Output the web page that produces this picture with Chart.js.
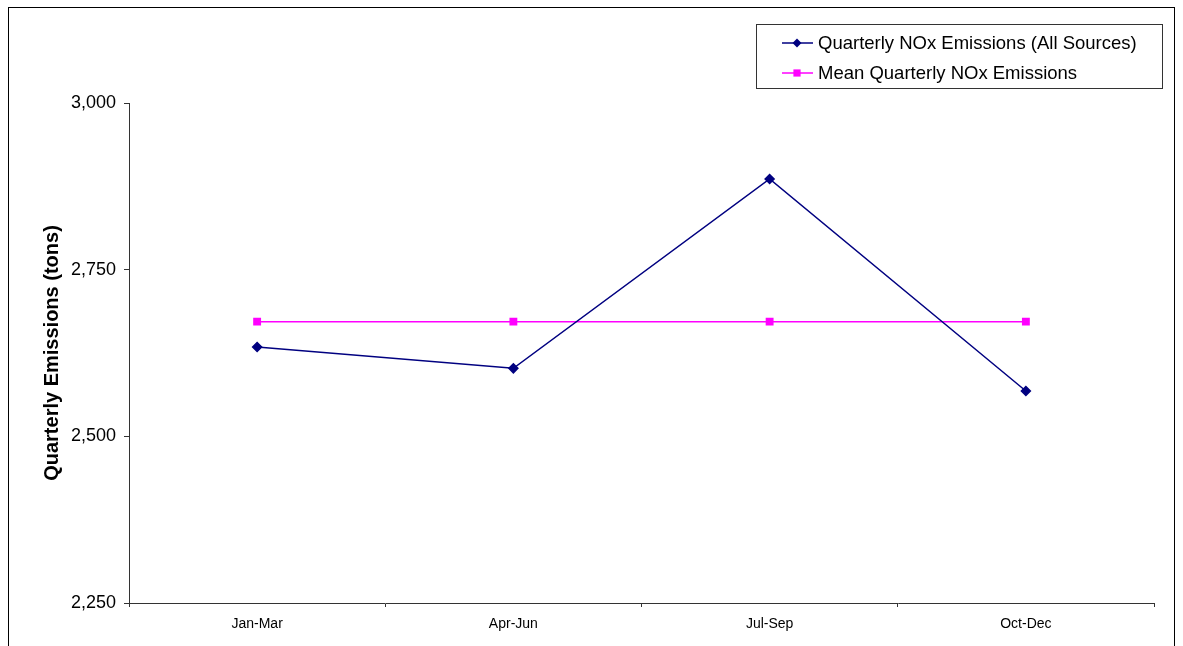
<!DOCTYPE html>
<html lang="en">
<head>
  <meta charset="UTF-8"/>
  <title>Quarterly NOx Emissions</title>
  <style>
    html, body { margin: 0; padding: 0; background: #fff; }
    #wrap { width: 1183px; height: 646px; position: relative; }
  </style>
</head>
<body>
  <div id="wrap">
    <canvas id="chart" width="1183" height="646"></canvas>
  </div>

  <script src="https://cdn.jsdelivr.net/npm/chart.js"></script>
  <script>
  // data
  const quarters = ['Jan-Mar', 'Apr-Jun', 'Jul-Sep', 'Oct-Dec'];
  const noxAll   = [2634, 2602, 2886, 2568];
  const noxMean  = [2672, 2672, 2672, 2672];
  const yTicks   = [2250, 2500, 2750, 3000];

  const FONT = "'Liberation Sans', Arial, sans-serif";

  // outer frame + legend box, drawn after the chart
  const framePlugin = {
    id: 'frame',
    afterDraw(chart) {
      const ctx = chart.ctx;
      ctx.save();
      // outer border (bottom edge is cut off in the reference)
      ctx.strokeStyle = '#000';
      ctx.lineWidth = 1;
      ctx.strokeRect(8.5, 7.5, 1166, 700);

      // legend
      ctx.strokeStyle = '#333';
      ctx.strokeRect(756.5, 24.5, 406, 64);
      ctx.font = '18.5px ' + FONT;
      ctx.textBaseline = 'middle';
      ctx.textAlign = 'left';
      const rows = [43, 73];
      chart.data.datasets.forEach((ds, i) => {
        const y = rows[i];
        ctx.strokeStyle = ds.borderColor;
        ctx.lineWidth = 1.5;
        ctx.beginPath();
        ctx.moveTo(782, y);
        ctx.lineTo(813, y);
        ctx.stroke();
        ctx.fillStyle = ds.pointBackgroundColor;
        const r = ds.pointRadius;
        ctx.beginPath();
        if (ds.pointStyle === 'rectRot') {
          ctx.moveTo(797, y - r);
          ctx.lineTo(797 + r, y);
          ctx.lineTo(797, y + r);
          ctx.lineTo(797 - r, y);
          ctx.closePath();
        } else {
          ctx.rect(797 - r * 0.8, y - r * 0.8, r * 1.6, r * 1.6);
        }
        ctx.fill();
        ctx.fillStyle = '#000';
        ctx.fillText(ds.label, 818, y + 1);
      });
      ctx.restore();
    }
  };

  new Chart(document.getElementById('chart'), {
    type: 'line',
    data: {
      labels: quarters,
      datasets: [
        {
          label: 'Quarterly NOx Emissions (All Sources)',
          data: noxAll,
          borderColor: '#000080',
          backgroundColor: '#000080',
          pointBackgroundColor: '#000080',
          pointBorderColor: '#000080',
          pointStyle: 'rectRot',
          pointRadius: 4.5,
          borderWidth: 1.5,
          tension: 0
        },
        {
          label: 'Mean Quarterly NOx Emissions',
          data: noxMean,
          borderColor: '#FF00FF',
          backgroundColor: '#FF00FF',
          pointBackgroundColor: '#FF00FF',
          pointBorderColor: '#FF00FF',
          pointStyle: 'rect',
          pointRadius: 4.5,
          borderWidth: 1.5,
          tension: 0
        }
      ]
    },
    options: {
      responsive: false,
      animation: false,
      layout: { padding: { left: 40, right: 29, top: 103, bottom: 0 } },
      plugins: {
        legend: { display: false },
        tooltip: { enabled: false }
      },
      scales: {
        x: {
          offset: true,
          grid: {
            offset: true,
            drawOnChartArea: false,
            tickLength: 4,
            color: '#333'
          },
          border: { color: '#333', width: 1 },
          ticks: {
            color: '#000',
            font: { family: FONT, size: 14 },
            padding: 9,
            maxRotation: 0
          },
          afterFit(scale) { scale.height = 43; }
        },
        y: {
          min: yTicks[0],
          max: yTicks[yTicks.length - 1],
          afterBuildTicks(scale) { scale.ticks = yTicks.map(v => ({ value: v })); },
          grid: {
            drawOnChartArea: false,
            tickLength: 5,
            color: '#333'
          },
          border: { color: '#333', width: 1 },
          ticks: {
            color: '#000',
            font: { family: FONT, size: 18 },
            padding: 8,
            callback: v => v.toLocaleString('en-US')
          },
          title: {
            display: true,
            text: 'Quarterly Emissions (tons)',
            color: '#000',
            font: { family: FONT, size: 20, weight: 'bold' },
            padding: 0
          },
          afterFit(scale) { scale.width = 89; }
        }
      }
    },
    plugins: [framePlugin]
  });
  </script>
</body>
</html>
